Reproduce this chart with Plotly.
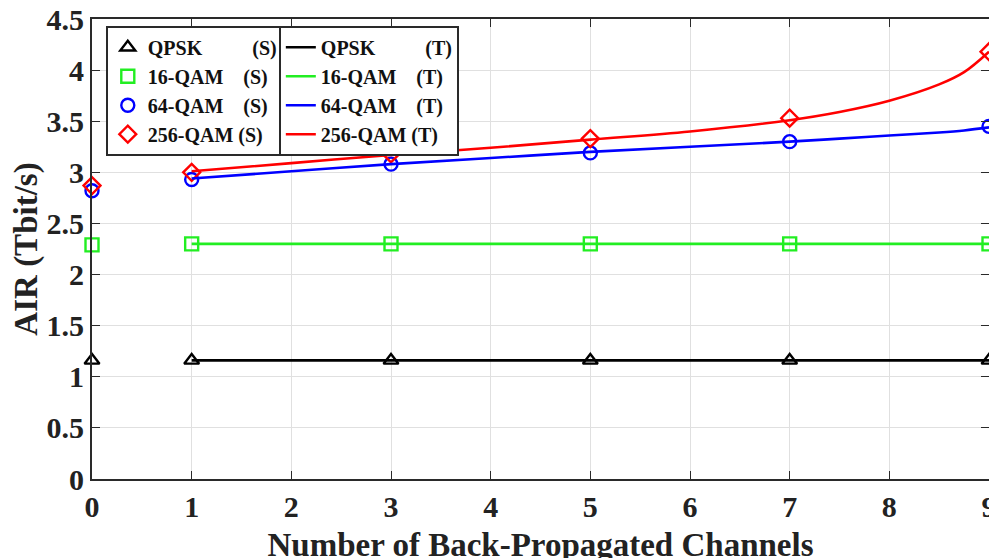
import plotly.graph_objects as go

# simulation points (S)
x_sim = [0, 1, 3, 5, 7, 9]
qpsk_sim = [1.16, 1.16, 1.16, 1.16, 1.16, 1.16]
qam16_sim = [2.29, 2.30, 2.30, 2.30, 2.30, 2.30]
qam64_sim = [2.82, 2.93, 3.08, 3.19, 3.30, 3.45]
qam256_sim = [2.87, 3.00, 3.18, 3.33, 3.53, 4.18]

# theory curves (T)
x_th = [1, 2, 3, 4, 5, 6, 7, 7.5, 8, 8.5, 8.75, 9]
qpsk_th = [1.16] * 12
qam16_th = [2.30] * 12
qam64_th = [2.94, 3.01, 3.08, 3.14, 3.20, 3.25, 3.30, 3.33, 3.36, 3.39, 3.41, 3.44]
qam256_th = [3.01, 3.09, 3.17, 3.24, 3.32, 3.40, 3.51, 3.59, 3.70, 3.86, 3.98, 4.18]

labels = ['QPSK', '16-QAM', '64-QAM', '256-QAM']
colors = ['black', '#22ee22', '#0000ff', '#ff0000']
symbols = ['triangle-up-open', 'square-open', 'circle-open', 'diamond-open']
pads = [10, 4, 4, 1]

NB = '\u00a0'
FONT = 'Liberation Serif'
TXT = '#222222'

fig = go.Figure()

for lab, col, sym, pad, yv in zip(labels, colors, symbols, pads,
                                  [qpsk_sim, qam16_sim, qam64_sim, qam256_sim]):
    fig.add_trace(go.Scatter(
        x=x_sim, y=yv, mode='markers',
        name=f'{lab}{NB * pad}(S)',
        marker=dict(symbol=sym, color=col, size=13, line=dict(width=2.4, color=col)),
        cliponaxis=False,
        legend='legend',
    ))

for lab, col, pad, yv in zip(labels, colors, pads,
                             [qpsk_th, qam16_th, qam64_th, qam256_th]):
    fig.add_trace(go.Scatter(
        x=x_th, y=yv, mode='lines',
        name=f'{lab}{NB * pad}(T)',
        line=dict(color=col, width=2.6, shape='spline'),
        legend='legend2',
    ))

axis_common = dict(
    showgrid=True, gridcolor='#e0e0e0', gridwidth=1,
    showline=True, linecolor='#2a2a2a', linewidth=1.8, mirror='ticks',
    ticks='inside', ticklen=8, tickcolor='#2a2a2a',
    tickfont=dict(family=FONT, size=30, color=TXT, weight='bold'),
    ticklabeloverflow='allow',
    zeroline=False, automargin=False,
)

fig.update_xaxes(
    range=[0, 9], dtick=1,
    title=dict(text='Number of Back-Propagated Channels', standoff=11,
               font=dict(family=FONT, size=33, color=TXT, weight='bold')),
    **axis_common,
)
fig.update_yaxes(
    range=[0, 4.5], dtick=0.5,
    title=dict(text='AIR (Tbit/s)', standoff=2,
               font=dict(family=FONT, size=33, color=TXT, weight='bold')),
    **axis_common,
)

legend_common = dict(
    bgcolor='white', bordercolor='#2a2a2a', borderwidth=1.8,
    font=dict(family=FONT, size=20, color='#111111', weight='bold'),
    itemwidth=30, tracegroupgap=0,
    xanchor='left', yanchor='top', y=0.985,
)

# the page body adds an 8 px offset, so margins are shifted to compensate
fig.update_layout(
    width=997, height=558,
    margin=dict(l=84, r=16, t=11, b=87),
    plot_bgcolor='white', paper_bgcolor='white',
    legend=dict(x=0.0156, **legend_common),
    legend2=dict(x=0.2085, **legend_common),
    showlegend=True,
)

fig.write_html('out.html')
